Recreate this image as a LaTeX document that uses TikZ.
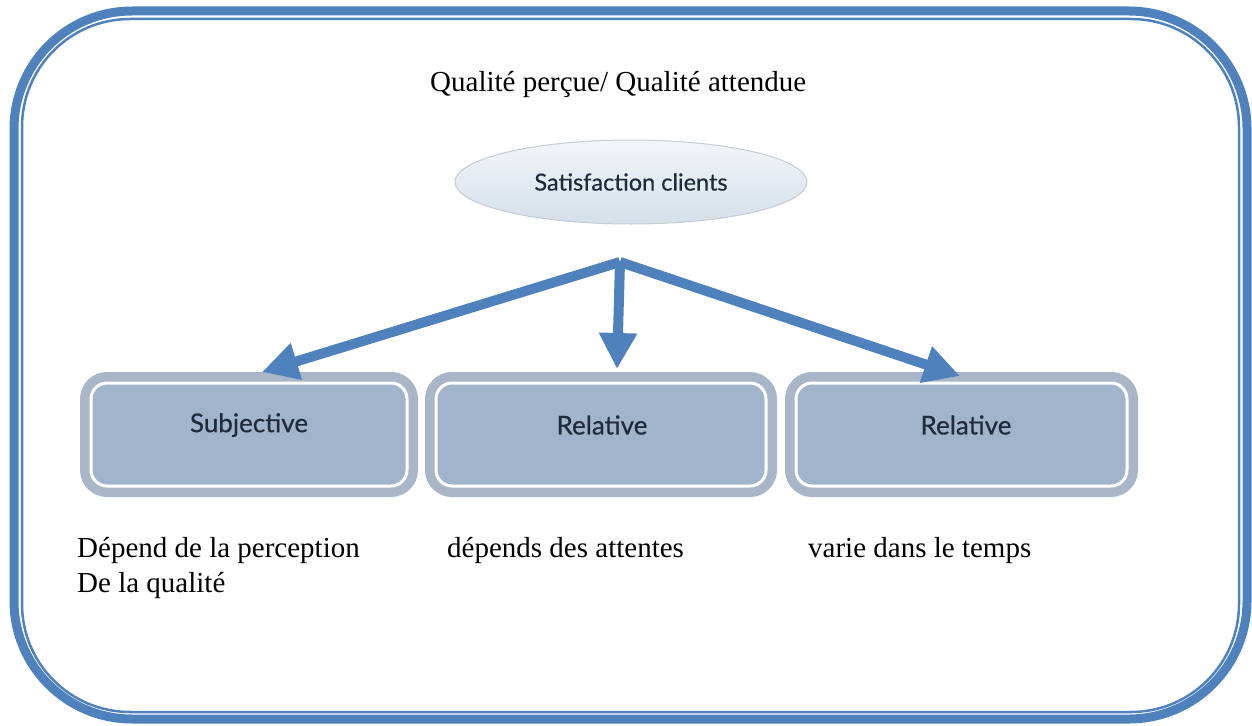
\documentclass[tikz,border=0pt]{standalone}
\usepackage{fontspec}
\setmainfont{Liberation Serif}
\newfontfamily\boxfont{Lato}[FakeBold=0.4]
\usetikzlibrary{arrows.meta,shapes.geometric}
\definecolor{frameblue}{HTML}{4F81BD}
\definecolor{boxborder}{HTML}{A8B6C7}
\definecolor{boxfill}{HTML}{A0B5CB}
\definecolor{ellfill}{HTML}{D5DFEA}
\definecolor{ellborder}{HTML}{C5CBD2}
\definecolor{boxtext}{HTML}{1F2A3A}
\tikzset{
  serif/.style={font=\fontsize{29}{35}\selectfont, inner sep=0pt},
  boxlabel/.style={font=\boxfont\fontsize{26}{30}\selectfont, text=boxtext},
  outerbox/.style={draw=boxborder, line width=10pt, fill=boxfill, rounded corners=22pt},
  innerline/.style={draw=white, line width=3pt, rounded corners=16pt},
  bigarrow/.style={draw=frameblue, line width=10pt, -{Triangle[width=36pt,length=36pt]}},
}
\begin{document}
\begin{tikzpicture}[x=1pt,y=-1pt]
\useasboundingbox (0,0) rectangle (1252,725);
% frame
\draw[frameblue, line width=9pt, rounded corners=118pt] (14,11) rectangle (1247,719);
\draw[frameblue, line width=2.5pt, rounded corners=108pt] (22,19) rectangle (1239,712);
% title
\node[serif, anchor=base west] (title) at (430,92) {Qualité perçue/ Qualité attendue};
% ellipse
\node[ellipse, draw=ellborder, line width=1pt, top color=white!70!ellfill, bottom color=ellfill,
      minimum width=352pt, minimum height=84pt, inner sep=0pt] (sat) at (631,182) {};
\node[boxlabel, font=\boxfont\fontsize{23.5}{27}\selectfont] (satl) at (631,182) {Satisfaction clients};
% boxes
\foreach \n/\xa/\xb in {b1/85/413, b2/430/772, b3/790/1133}{
  \draw[outerbox] (\xa,377) rectangle (\xb,492);
  \draw[innerline] (\xa+6,383) rectangle (\xb-6,486);
  \coordinate (\n) at ({(\xa+\xb)/2},434.5);
}
\node[boxlabel] (l1) at (249,425) {Subjective};
\node[boxlabel] (l2) at (602,425) {Relative};
\node[boxlabel] (l3) at (966,425) {Relative};
% arrows
\coordinate (src) at (620,262);
\coordinate (t1) at (262,372);
\coordinate (t2) at (617,369);
\coordinate (t3) at (960,376);
\draw[bigarrow] (src) -- (t1);
\draw[bigarrow] (src) -- (t2);
\draw[bigarrow] (src) -- (t3);
% bottom texts
\node[serif, anchor=base west] (d1) at (77,557) {Dépend de la perception};
\node[serif, anchor=base west] (d1b) at (77,592) {De la qualité};
\node[serif, anchor=base west] (d2) at (447,557) {dépends des attentes};
\node[serif, anchor=base west] (d3) at (808,557) {varie dans le temps};
\end{tikzpicture}
\end{document}
